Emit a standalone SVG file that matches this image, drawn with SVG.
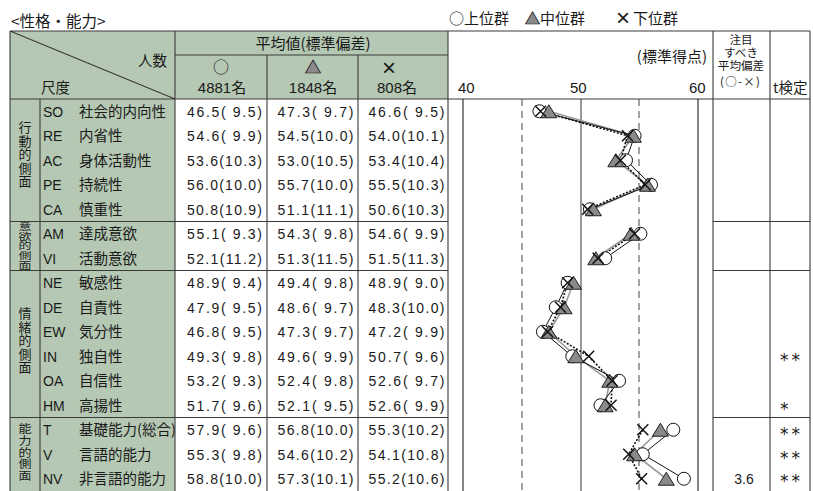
<svg xmlns="http://www.w3.org/2000/svg" xmlns:xlink="http://www.w3.org/1999/xlink" width="813" height="491" viewBox="0 0 813 491">
<style>
.l{font-family:"Liberation Sans","Noto Sans CJK JP",sans-serif;fill:#1a1a1a}
.j{font-family:"Noto Sans CJK JP","Liberation Sans",sans-serif;fill:#1a1a1a}
.d{font-size:14px}
.nm{font-size:14.5px}
.v{font-size:13px;writing-mode:vertical-rl;text-anchor:middle;letter-spacing:0.5px}
.ast{font-family:"DejaVu Sans",sans-serif;fill:#1a1a1a;font-size:17px;letter-spacing:3px}
.grid{stroke:#3a3a3a;stroke-width:1.1;fill:none}
.gfill{fill:#b5c8b3}
.ax{stroke:#222;stroke-width:1.1}
.ax50{stroke:#444;stroke-width:1.1}
.dash{stroke:#555;stroke-width:1.1;stroke-dasharray:7 5}
.lc{fill:none;stroke:#111;stroke-width:1}
.lt{fill:none;stroke:#9a9a9a;stroke-width:1.6}
.lx{fill:none;stroke:#111;stroke-width:1.6;stroke-dasharray:2 1.6}
.mc{fill:#fff;stroke:#111;stroke-width:1}
.mt{fill:#8a8a8a;stroke:#111;stroke-width:0.9}
.mx{fill:none;stroke:#111;stroke-width:1.5}
.tri{fill:#8a8a8a;stroke:#111;stroke-width:0.7}
</style>
<defs>
<circle id="c" r="6.5" class="mc"/>
<path id="t" d="M0,-6.5 L8,6.5 L-8,6.5Z" class="mt"/>
<path id="x" d="M-5.5,-5.5 L5.5,5.5 M5.5,-5.5 L-5.5,5.5" class="mx"/>
</defs>
<rect width="813" height="491" fill="#fff"/>

<g id="title">
<text class="j" x="11" y="27" font-size="15.5">&lt;性格・能力&gt;</text>
</g>

<g id="legend">
<text class="j" x="449" y="23.5" font-size="15">○上位群</text>
<text class="j" x="525" y="23.5" font-size="15"><tspan class="tri">▲</tspan>中位群</text>
<text class="j" x="616" y="23.5" font-size="15"><tspan font-family="Liberation Sans" font-size="24" dy="2">×</tspan><tspan x="633" dy="-2">下位群</tspan></text>
</g>

<g id="fills">
<rect class="gfill" x="10" y="31" width="438" height="68"/>
<rect class="gfill" x="10" y="99" width="165" height="392"/>
</g>

<g id="grid">
<path class="grid" d="M10,31 H810 M10,31 V491 M810,31 V491 M40,99 V491 M175,31 V491 M267,55 V491 M358,55 V491 M448,31 V491 M713,31 V491 M770,31 V491 M175,55 H448 M10,99 H810 M10,221.5 H448 M713,221.5 H810 M10,270.5 H448 M713,270.5 H810 M10,417.5 H448 M713,417.5 H810 M10,31 L175,99"/>
</g>

<g id="header">
<text class="j" x="138" y="66" font-size="14.5">人数</text>
<text class="j" x="41" y="92.5" font-size="14.5">尺度</text>
<text class="j" x="313" y="48.5" font-size="15" text-anchor="middle">平均値(標準偏差)</text>
<text class="j" x="221" y="73" font-size="16" text-anchor="middle">○</text>
<text class="j" x="313" y="73" font-size="16" text-anchor="middle"><tspan class="tri">▲</tspan></text>
<text class="l" x="389" y="75.5" font-size="24" text-anchor="middle">×</text>
<text class="l" x="222" y="93" font-size="15" text-anchor="middle">4881名</text>
<text class="l" x="313" y="93" font-size="15" text-anchor="middle">1848名</text>
<text class="l" x="397" y="93" font-size="15" text-anchor="middle">808名</text>
<text class="j" x="707" y="62" font-size="15" text-anchor="end">(標準得点)</text>
<text class="l" x="458" y="93" font-size="15">40</text>
<text class="l" x="570" y="93" font-size="15">50</text>
<text class="l" x="689" y="93" font-size="15">60</text>
<text class="l" x="741" y="44" font-size="11.6" text-anchor="middle">注目</text>
<text class="l" x="741" y="57" font-size="11.6" text-anchor="middle">すべき</text>
<text class="l" x="741" y="69.5" font-size="11.6" text-anchor="middle">平均偏差</text>
<text class="j" x="720" y="85.5" font-size="11.5" textLength="40">(○-×)</text>
<text class="j" x="773" y="93" font-size="14.5">t検定</text>
</g>

<g id="groups">
<text id="g1" class="j v" x="25" y="154.5">行動的側面</text>
<text id="g2" class="j v" transform="translate(25,246) scale(1,0.72)" x="0" y="0">意欲的側面</text>
<text id="g3" class="j v" x="25" y="340.5" letter-spacing="2.6">情緒的側面</text>
<text id="g4" class="j v" transform="translate(25,452.5) scale(1,0.87)" x="0" y="0">能力的側面</text>
</g>

<g id="scales">
<text class="l d" x="43" y="116.5">SO</text><text class="j nm" x="79" y="116.5">社会的内向性</text>
<text class="l d" x="43" y="141">RE</text><text class="j nm" x="79" y="141">内省性</text>
<text class="l d" x="43" y="165.5">AC</text><text class="j nm" x="79" y="165.5">身体活動性</text>
<text class="l d" x="43" y="190">PE</text><text class="j nm" x="79" y="190">持続性</text>
<text class="l d" x="43" y="214.5">CA</text><text class="j nm" x="79" y="214.5">慎重性</text>
<text class="l d" x="43" y="239">AM</text><text class="j nm" x="79" y="239">達成意欲</text>
<text class="l d" x="43" y="263.5">VI</text><text class="j nm" x="79" y="263.5">活動意欲</text>
<text class="l d" x="43" y="288">NE</text><text class="j nm" x="79" y="288">敏感性</text>
<text class="l d" x="43" y="312.5">DE</text><text class="j nm" x="79" y="312.5">自責性</text>
<text class="l d" x="43" y="337">EW</text><text class="j nm" x="79" y="337">気分性</text>
<text class="l d" x="43" y="361.5">IN</text><text class="j nm" x="79" y="361.5">独自性</text>
<text class="l d" x="43" y="386">OA</text><text class="j nm" x="79" y="386">自信性</text>
<text class="l d" x="43" y="410.5">HM</text><text class="j nm" x="79" y="410.5">高揚性</text>
<text class="l d" x="43" y="435">T</text><text class="j nm" x="79" y="435">基礎能力(総合)</text>
<text class="l d" x="43" y="459.5">V</text><text class="j nm" x="79" y="459.5">言語的能力</text>
<text class="l d" x="43" y="484">NV</text><text class="j nm" x="79" y="484">非言語的能力</text>
</g>

<g id="values" class="l d">
<text x="187" y="116.5" textLength="75">46.5( 9.5)</text><text x="277.5" y="116.5" textLength="76">47.3( 9.7)</text><text x="368.5" y="116.5" textLength="76">46.6( 9.5)</text>
<text x="187" y="141" textLength="75">54.6( 9.9)</text><text x="277.5" y="141" textLength="76">54.5(10.0)</text><text x="368.5" y="141" textLength="76">54.0(10.1)</text>
<text x="187" y="165.5" textLength="75">53.6(10.3)</text><text x="277.5" y="165.5" textLength="76">53.0(10.5)</text><text x="368.5" y="165.5" textLength="76">53.4(10.4)</text>
<text x="187" y="190" textLength="75">56.0(10.0)</text><text x="277.5" y="190" textLength="76">55.7(10.0)</text><text x="368.5" y="190" textLength="76">55.5(10.3)</text>
<text x="187" y="214.5" textLength="75">50.8(10.9)</text><text x="277.5" y="214.5" textLength="76">51.1(11.1)</text><text x="368.5" y="214.5" textLength="76">50.6(10.3)</text>
<text x="187" y="239" textLength="75">55.1( 9.3)</text><text x="277.5" y="239" textLength="76">54.3( 9.8)</text><text x="368.5" y="239" textLength="76">54.6( 9.9)</text>
<text x="187" y="263.5" textLength="75">52.1(11.2)</text><text x="277.5" y="263.5" textLength="76">51.3(11.5)</text><text x="368.5" y="263.5" textLength="76">51.5(11.3)</text>
<text x="187" y="288" textLength="75">48.9( 9.4)</text><text x="277.5" y="288" textLength="76">49.4( 9.8)</text><text x="368.5" y="288" textLength="76">48.9( 9.0)</text>
<text x="187" y="312.5" textLength="75">47.9( 9.5)</text><text x="277.5" y="312.5" textLength="76">48.6( 9.7)</text><text x="368.5" y="312.5" textLength="76">48.3(10.0)</text>
<text x="187" y="337" textLength="75">46.8( 9.5)</text><text x="277.5" y="337" textLength="76">47.3( 9.7)</text><text x="368.5" y="337" textLength="76">47.2( 9.9)</text>
<text x="187" y="361.5" textLength="75">49.3( 9.8)</text><text x="277.5" y="361.5" textLength="76">49.6( 9.9)</text><text x="368.5" y="361.5" textLength="76">50.7( 9.6)</text>
<text x="187" y="386" textLength="75">53.2( 9.3)</text><text x="277.5" y="386" textLength="76">52.4( 9.8)</text><text x="368.5" y="386" textLength="76">52.6( 9.7)</text>
<text x="187" y="410.5" textLength="75">51.7( 9.6)</text><text x="277.5" y="410.5" textLength="76">52.1( 9.5)</text><text x="368.5" y="410.5" textLength="76">52.6( 9.9)</text>
<text x="187" y="435" textLength="75">57.9( 9.6)</text><text x="277.5" y="435" textLength="76">56.8(10.0)</text><text x="368.5" y="435" textLength="76">55.3(10.2)</text>
<text x="187" y="459.5" textLength="75">55.3( 9.8)</text><text x="277.5" y="459.5" textLength="76">54.6(10.2)</text><text x="368.5" y="459.5" textLength="76">54.1(10.8)</text>
<text x="187" y="484" textLength="75">58.8(10.0)</text><text x="277.5" y="484" textLength="76">57.3(10.1)</text><text x="368.5" y="484" textLength="76">55.2(10.6)</text>
</g>

<g id="notes">
<text class="l" x="744" y="484" font-size="14" text-anchor="middle">3.6</text>
<text class="ast" x="780" y="366">**</text>
<text class="ast" x="780" y="415">*</text>
<text class="ast" x="780" y="439.5">**</text>
<text class="ast" x="780" y="464">**</text>
<text class="ast" x="780" y="486.5">**</text>
</g>

<g id="axes">
<line class="ax" x1="463" y1="99" x2="463" y2="491"/>
<line class="dash" x1="522" y1="99" x2="522" y2="491"/>
<line class="ax50" x1="581" y1="99" x2="581" y2="491"/>
<line class="dash" x1="639" y1="99" x2="639" y2="491"/>
<line class="ax" x1="698" y1="99" x2="698" y2="491"/>
</g>

<g id="connectors">
<polyline class="lt" points="548.8,111.25 633.4,135.75 615.8,160.25 647.5,184.75 593.4,209.25"/>
<polyline class="lt" points="631,233.75 595.8,258.25"/>
<polyline class="lt" points="573.5,282.75 564.1,307.25 548.8,331.75 575.8,356.25 609.7,380.75 605.2,405.25"/>
<polyline class="lt" points="660.4,429.75 634.6,454.25 666.3,478.75"/>
<polyline class="lc" points="539.4,111.25 634.6,135.75 626,160.25 651,184.75 589.9,209.25"/>
<polyline class="lc" points="640.4,233.75 605.2,258.25"/>
<polyline class="lc" points="567.6,282.75 555.8,307.25 542.9,331.75 572.3,356.25 619.1,380.75 600.5,405.25"/>
<polyline class="lc" points="673.3,429.75 642.8,454.25 683.9,478.75"/>
<polyline class="lx" points="540.6,111.25 627.5,135.75 620.5,160.25 645.1,184.75 587.6,209.25"/>
<polyline class="lx" points="634.6,233.75 598.1,258.25"/>
<polyline class="lx" points="567.6,282.75 560.5,307.25 547.6,331.75 588.7,356.25 612.1,380.75 611.1,405.25"/>
<polyline class="lx" points="642.8,429.75 628.7,454.25 641.6,478.75"/>
</g>

<g id="markers-upper">
<use href="#c" x="539.4" y="111.25"/><use href="#c" x="634.6" y="135.75"/><use href="#c" x="626" y="160.25"/><use href="#c" x="651" y="184.75"/><use href="#c" x="589.9" y="209.25"/>
<use href="#c" x="640.4" y="233.75"/><use href="#c" x="605.2" y="258.25"/>
<use href="#c" x="567.6" y="282.75"/><use href="#c" x="555.8" y="307.25"/><use href="#c" x="542.9" y="331.75"/><use href="#c" x="572.3" y="356.25"/><use href="#c" x="619.1" y="380.75"/><use href="#c" x="600.5" y="405.25"/>
<use href="#c" x="673.3" y="429.75"/><use href="#c" x="642.8" y="454.25"/><use href="#c" x="683.9" y="478.75"/>
</g>
<g id="markers-middle">
<use href="#t" x="548.8" y="111.25"/><use href="#t" x="633.4" y="135.75"/><use href="#t" x="615.8" y="160.25"/><use href="#t" x="647.5" y="184.75"/><use href="#t" x="593.4" y="209.25"/>
<use href="#t" x="631" y="233.75"/><use href="#t" x="595.8" y="258.25"/>
<use href="#t" x="573.5" y="282.75"/><use href="#t" x="564.1" y="307.25"/><use href="#t" x="548.8" y="331.75"/><use href="#t" x="575.8" y="356.25"/><use href="#t" x="609.7" y="380.75"/><use href="#t" x="605.2" y="405.25"/>
<use href="#t" x="660.4" y="429.75"/><use href="#t" x="634.6" y="454.25"/><use href="#t" x="666.3" y="478.75"/>
</g>
<g id="markers-lower">
<use href="#x" x="540.6" y="111.25"/><use href="#x" x="627.5" y="135.75"/><use href="#x" x="620.5" y="160.25"/><use href="#x" x="645.1" y="184.75"/><use href="#x" x="587.6" y="209.25"/>
<use href="#x" x="634.6" y="233.75"/><use href="#x" x="598.1" y="258.25"/>
<use href="#x" x="567.6" y="282.75"/><use href="#x" x="560.5" y="307.25"/><use href="#x" x="547.6" y="331.75"/><use href="#x" x="588.7" y="356.25"/><use href="#x" x="612.1" y="380.75"/><use href="#x" x="611.1" y="405.25"/>
<use href="#x" x="642.8" y="429.75"/><use href="#x" x="628.7" y="454.25"/><use href="#x" x="641.6" y="478.75"/>
</g>
</svg>
